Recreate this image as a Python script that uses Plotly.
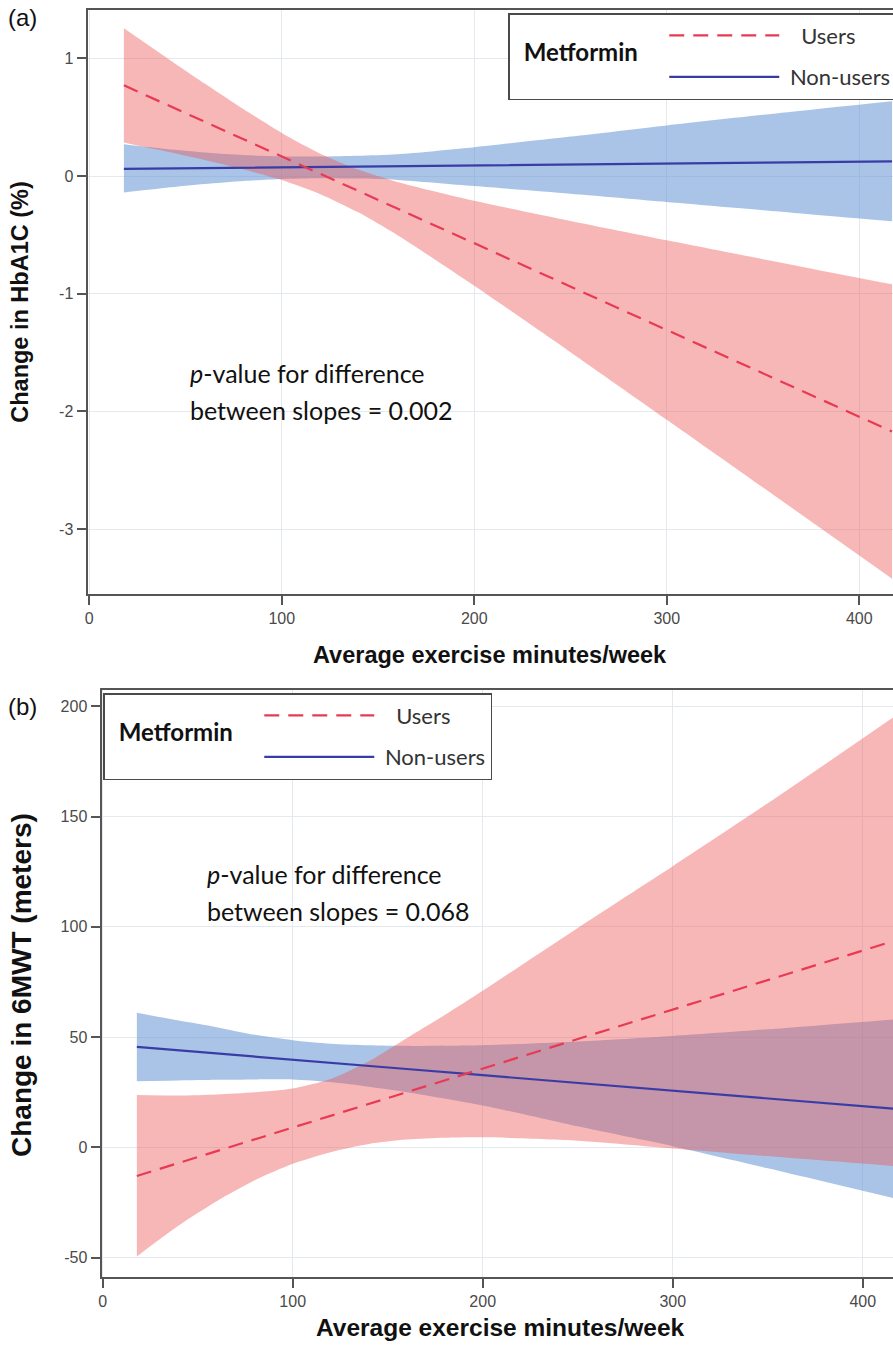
import plotly.graph_objects as go

W, H = 893, 1350

# ---------------- Panel (a): HbA1C ----------------
a_x_users = [18, 40, 60, 80, 100, 120, 140, 160, 200, 250, 300, 350, 417]
a_users = [0.770, 0.608, 0.461, 0.313, 0.166, 0.018, -0.129, -0.276, -0.571, -0.939, -1.308, -1.676, -2.170]
a_users_up = [1.255, 1.007, 0.785, 0.569, 0.366, 0.190, 0.053, -0.050, -0.210, -0.382, -0.546, -0.706, -0.920]
a_users_lo = [0.285, 0.209, 0.137, 0.057, -0.034, -0.154, -0.311, -0.502, -0.932, -1.496, -2.070, -2.646, -3.420]

a_x_non = [18, 40, 60, 80, 100, 120, 140, 160, 200, 250, 300, 350, 417]
a_non = [0.060, 0.064, 0.067, 0.070, 0.073, 0.077, 0.080, 0.083, 0.090, 0.098, 0.106, 0.114, 0.125]
a_non_up = [0.270, 0.230, 0.200, 0.178, 0.166, 0.165, 0.172, 0.185, 0.245, 0.335, 0.430, 0.520, 0.635]
a_non_lo = [-0.140, -0.100, -0.068, -0.042, -0.025, -0.018, -0.022, -0.033, -0.085, -0.150, -0.220, -0.290, -0.385]

# ---------------- Panel (b): 6MWT ----------------
b_x_users = [18, 40, 60, 80, 100, 120, 140, 160, 180, 200, 250, 300, 350, 416]
b_users = [-13.0, -7.1, -1.8, 3.6, 8.9, 14.3, 19.6, 25.0, 30.3, 35.7, 49.1, 62.4, 75.8, 93.5]
b_users_up = [23.7, 23.5, 24.0, 25.0, 26.7, 31.0, 39.0, 49.5, 60.0, 71.0, 99.5, 127.5, 156.0, 195.0]
b_users_lo = [-49.5, -35.5, -24.5, -15.0, -7.5, -2.2, 1.5, 3.5, 4.3, 4.5, 3.0, -0.5, -4.0, -8.5]

b_x_non = [18, 40, 60, 80, 100, 120, 140, 160, 200, 250, 300, 350, 416]
b_non = [45.5, 44.0, 42.5, 41.1, 39.7, 38.3, 36.9, 35.5, 32.7, 29.2, 25.6, 22.1, 17.5]
b_non_up = [61.0, 57.5, 54.5, 51.0, 48.6, 47.0, 46.3, 46.0, 46.3, 48.0, 50.5, 53.5, 58.0]
b_non_lo = [30.0, 30.3, 30.6, 30.8, 30.8, 29.6, 27.5, 25.0, 19.0, 9.5, 0.5, -9.5, -23.0]

x_ticks = [0, 100, 200, 300, 400]
x_tick_labels = ["0", "100", "200", "300", "400"]
a_y_ticks = [-3, -2, -1, 0, 1]
a_y_tick_labels = ["-3", "-2", "-1", "0", "1"]
b_y_ticks = [-50, 0, 50, 100, 150, 200]
b_y_tick_labels = ["-50", "0", "50", "100", "150", "200"]

series_names = ["Users", "Non-users"]
legend_title = "Metformin"
a_ytitle = "Change in HbA1C (%)"
b_ytitle = "Change in 6MWT (meters)"
xtitle = "Average exercise minutes/week"
a_note = ["<i>p</i>-value for difference", "between slopes = 0.002"]
b_note = ["<i>p</i>-value for difference", "between slopes = 0.068"]

RED_LINE = "rgb(232,58,82)"
BLUE_LINE = "rgb(58,60,165)"
RED_FILL = "rgba(236,84,84,0.42)"
BLUE_FILL = "rgba(98,148,212,0.55)"
NB = "\u00a0"

fig = go.Figure()


def band(x, lo, up, color, xa, ya):
    fig.add_trace(go.Scatter(x=x, y=lo, mode="lines", line=dict(width=0, shape="spline", smoothing=0.7),
                             showlegend=False, hoverinfo="skip", xaxis=xa, yaxis=ya))
    fig.add_trace(go.Scatter(x=x, y=up, mode="lines", line=dict(width=0, shape="spline", smoothing=0.7),
                             fill="tonexty", fillcolor=color, showlegend=False, hoverinfo="skip",
                             xaxis=xa, yaxis=ya))


def lines(xu, yu, xn, yn, xa, ya, leg, grp):
    fig.add_trace(go.Scatter(x=xn, y=yn, mode="lines", name=NB + series_names[1],
                             line=dict(color=BLUE_LINE, width=2.2), legend=leg, legendgroup=grp + "n",
                             legendrank=2, xaxis=xa, yaxis=ya))
    fig.add_trace(go.Scatter(x=xu, y=yu, mode="lines", name=NB * 3 + series_names[0],
                             line=dict(color=RED_LINE, width=2.2, dash="15px,9px"), legend=leg,
                             legendgroup=grp + "u", legendrank=1, xaxis=xa, yaxis=ya))


band(a_x_non, a_non_lo, a_non_up, BLUE_FILL, "x", "y")
band(a_x_users, a_users_lo, a_users_up, RED_FILL, "x", "y")
lines(a_x_users, a_users, a_x_non, a_non, "x", "y", "legend", "a")

band(b_x_non, b_non_lo, b_non_up, BLUE_FILL, "x2", "y2")
band(b_x_users, b_users_lo, b_users_up, RED_FILL, "x2", "y2")
lines(b_x_users, b_users, b_x_non, b_non, "x2", "y2", "legend2", "b")

TICKFONT = dict(family="Liberation Sans, Arial, sans-serif", size=16, color="#4a4a4a")
AX = dict(showline=True, linecolor="#555555", linewidth=2, ticks="outside", ticklen=9,
          tickwidth=1.5, tickcolor="#555555", gridcolor="#e4e9f0", gridwidth=1,
          zeroline=False, tickfont=TICKFONT, automargin=False)

legend_common = dict(bgcolor="white", bordercolor="#4a4a4a", borderwidth=1.5,
                     font=dict(family="Lato, sans-serif", size=22, color="#333333"),
                     itemwidth=110, tracegroupgap=10, xanchor="left", yanchor="top",
                     title=dict(text=NB + "<br><span style='font-size:24px'>" + NB * 2 + "<b>" +
                                legend_title + "</b>" + NB * 3 + "</span>",
                                side="left",
                                font=dict(family="Lato, sans-serif", size=18, color="#111111")))

fig.update_layout(
    width=W, height=H, margin=dict(l=0, r=0, t=0, b=0, autoexpand=False),
    paper_bgcolor="white", plot_bgcolor="white",
    xaxis=dict(domain=[87.5 / W, 1], range=[-0.9, 417.5], tickvals=x_ticks, ticktext=x_tick_labels,
               mirror=True, anchor="y", **AX),
    yaxis=dict(domain=[1 - 593.5 / H, 1 - 10 / H], range=[-3.546, 1.41], tickvals=a_y_ticks,
               ticktext=a_y_tick_labels, anchor="x", **AX),
    xaxis2=dict(domain=[101.5 / W, 1], range=[-0.6, 415.9], tickvals=x_ticks, ticktext=x_tick_labels,
                mirror=True, anchor="y2", **AX),
    yaxis2=dict(domain=[1 - 1276.5 / H, 1 - 690 / H], range=[-58.6, 207.4], tickvals=b_y_ticks,
                ticktext=b_y_tick_labels, anchor="x2", **AX),
    legend=dict(x=508 / W, y=1 - 13 / H, **legend_common),
    legend2=dict(x=103 / W, y=1 - 693 / H, **legend_common),
)

TITLEFONT = dict(family="Liberation Sans, Arial, sans-serif", size=23.5, color="#111111")
NOTEFONT = dict(family="Lato, sans-serif", size=25, color="#111111")


def ann(text, px, py, font, angle=0, xanchor="center", yanchor="middle"):
    fig.add_annotation(text=text, x=px / W, y=1 - py / H, xref="paper", yref="paper",
                       showarrow=False, font=font, textangle=angle, xanchor=xanchor, yanchor=yanchor)


ann("<b>" + a_ytitle + "</b>", 20, 301.75, TITLEFONT, angle=-90)
ann("<b>" + xtitle + "</b>", 490, 655, TITLEFONT)
ann("<b>" + b_ytitle + "</b>", 21, 985, dict(TITLEFONT, size=28), angle=-90)
ann("<b>" + xtitle + "</b>", 500, 1327, dict(TITLEFONT, size=24.5))
ann("(a)", 22, 18, dict(family="Liberation Sans, Arial, sans-serif", size=24, color="#111111"))
ann("(b)", 22, 706, dict(family="Liberation Sans, Arial, sans-serif", size=24, color="#111111"))
ann(a_note[0], 188, 373, NOTEFONT, xanchor="left")
ann(a_note[1], 188, 410, NOTEFONT, xanchor="left")
ann(b_note[0], 205, 874, NOTEFONT, xanchor="left")
ann(b_note[1], 205, 911, NOTEFONT, xanchor="left")

fig.write_html("out.html", config={"displayModeBar": False},
               post_script="document.body.style.margin='0';document.body.style.padding='0';")
